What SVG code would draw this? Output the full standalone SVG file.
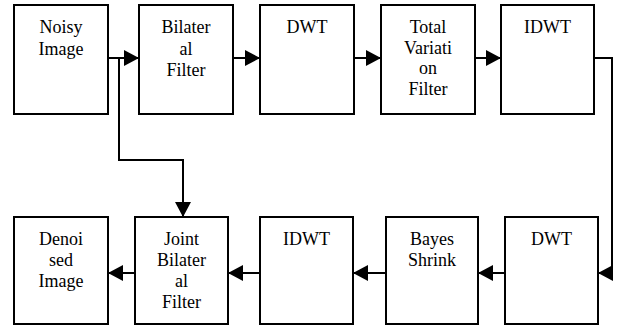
<svg xmlns="http://www.w3.org/2000/svg" width="617" height="326" viewBox="0 0 617 326">
<style>
.box{fill:#fff;stroke:#000;stroke-width:2}
.c{fill:none;stroke:#000;stroke-width:2}
</style>
<defs>
<marker id="ah" markerUnits="userSpaceOnUse" markerWidth="16" markerHeight="16" refX="15" refY="8" orient="auto">
<path d="M0,0 L15,8 L0,16 z" fill="#000"/>
</marker>
</defs>
<rect width="617" height="326" fill="#fff"/>
<g id="connectors">
<path class="c" d="M108,58 H139" marker-end="url(#ah)"/>
<path class="c" d="M233,58 H260" marker-end="url(#ah)"/>
<path class="c" d="M354,58 H381" marker-end="url(#ah)"/>
<path class="c" d="M475,58 H501" marker-end="url(#ah)"/>
<path class="c" d="M594,58 H612 V273 H598" marker-end="url(#ah)"/>
<path class="c" d="M505,273 H478" marker-end="url(#ah)"/>
<path class="c" d="M386,273 H353" marker-end="url(#ah)"/>
<path class="c" d="M260,273 H228" marker-end="url(#ah)"/>
<path class="c" d="M135,273 H108" marker-end="url(#ah)"/>
<path class="c" d="M119,58 V160 H183 V217" marker-end="url(#ah)"/>
</g>
<g id="noisy"><rect class="box" x="14" y="5" width="94" height="109"/><text font-family="'Liberation Serif'" font-size="18" text-anchor="middle" x="61" y="33">Noisy</text><text font-family="'Liberation Serif'" font-size="18" text-anchor="middle" x="61" y="54.5">Image</text></g>
<g id="bilateral"><rect class="box" x="139" y="5" width="94" height="109"/><text font-family="'Liberation Serif'" font-size="18" text-anchor="middle" x="186" y="33">Bilater</text><text font-family="'Liberation Serif'" font-size="18" text-anchor="middle" x="186" y="54.5">al</text><text font-family="'Liberation Serif'" font-size="18" text-anchor="middle" x="186" y="76">Filter</text></g>
<g id="dwt1"><rect class="box" x="260" y="5" width="94" height="109"/><text font-family="'Liberation Serif'" font-size="18" text-anchor="middle" x="307" y="33">DWT</text></g>
<g id="tv"><rect class="box" x="381" y="5" width="94" height="109"/><text font-family="'Liberation Serif'" font-size="18" text-anchor="middle" x="428" y="33">Total</text><text font-family="'Liberation Serif'" font-size="18" text-anchor="middle" x="428" y="53.5">Variati</text><text font-family="'Liberation Serif'" font-size="18" text-anchor="middle" x="428" y="74">on</text><text font-family="'Liberation Serif'" font-size="18" text-anchor="middle" x="428" y="94.5">Filter</text></g>
<g id="idwt1"><rect class="box" x="501" y="5" width="93" height="109"/><text font-family="'Liberation Serif'" font-size="18" text-anchor="middle" x="547.5" y="33">IDWT</text></g>
<g id="dwt2"><rect class="box" x="505" y="217" width="93" height="107"/><text font-family="'Liberation Serif'" font-size="18" text-anchor="middle" x="551.5" y="245">DWT</text></g>
<g id="bayes"><rect class="box" x="386" y="217" width="92" height="107"/><text font-family="'Liberation Serif'" font-size="18" text-anchor="middle" x="432" y="245">Bayes</text><text font-family="'Liberation Serif'" font-size="18" text-anchor="middle" x="432" y="266">Shrink</text></g>
<g id="idwt2"><rect class="box" x="260" y="217" width="93" height="107"/><text font-family="'Liberation Serif'" font-size="18" text-anchor="middle" x="306.5" y="245">IDWT</text></g>
<g id="joint"><rect class="box" x="135" y="217" width="93" height="107"/><text font-family="'Liberation Serif'" font-size="18" text-anchor="middle" x="181.5" y="245">Joint</text><text font-family="'Liberation Serif'" font-size="18" text-anchor="middle" x="181.5" y="266">Bilater</text><text font-family="'Liberation Serif'" font-size="18" text-anchor="middle" x="181.5" y="287">al</text><text font-family="'Liberation Serif'" font-size="18" text-anchor="middle" x="181.5" y="308">Filter</text></g>
<g id="denoised"><rect class="box" x="14" y="217" width="94" height="107"/><text font-family="'Liberation Serif'" font-size="18" text-anchor="middle" x="61" y="245">Denoi</text><text font-family="'Liberation Serif'" font-size="18" text-anchor="middle" x="61" y="266">sed</text><text font-family="'Liberation Serif'" font-size="18" text-anchor="middle" x="61" y="287">Image</text></g>
</svg>
